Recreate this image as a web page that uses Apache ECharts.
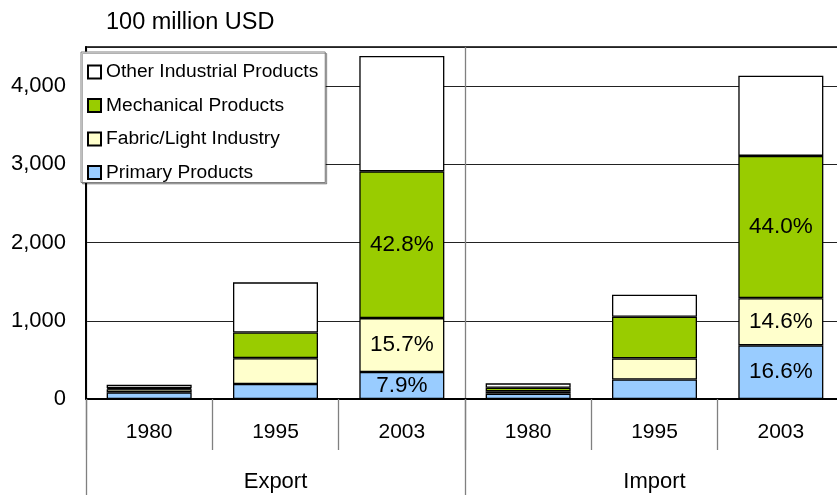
<!DOCTYPE html>
<html>
<head>
<meta charset="utf-8">
<script src="https://cdn.jsdelivr.net/npm/echarts@6/dist/echarts.min.js"></script>
<style>
  html, body { margin: 0; padding: 0; background: #fff; }
  #chart { width: 837px; height: 495px; }
</style>
</head>
<body>
<div id="chart"></div>
<script>
// Trade composition, unit: 100 million USD
const groups = ['Export', 'Import'];
const years = ['1980', '1995', '2003'];
const categories = groups.flatMap(() => years);

// Stacked from the bottom: primary, fabric/light industry, mechanical, other industrial
const primary    = [85, 192, 346, 69, 250, 686];
const fabric     = [40, 330, 688, 30, 269, 603];
const mechanical = [12, 328, 1876, 45, 532, 1819];
const other      = [44, 641, 1474, 56, 281, 1025];

const seriesNames = ['Primary Products', 'Fabric/Light Industry', 'Mechanical Products', 'Other Industrial Products'];
const seriesColors = ['#99CCFF', '#FFFFCC', '#99CC00', '#FFFFFF'];
const labelledYear = '2003';
const yMax = 4500;
const yStep = 1000;

const FONT = '"Liberation Sans", Arial, sans-serif';
const totals = categories.map((_, i) => primary[i] + fabric[i] + mechanical[i] + other[i]);

function shareLabel(p) {
  if (categories[p.dataIndex] !== labelledYear) return '';
  return (p.value / totals[p.dataIndex] * 100).toFixed(1) + '%';
}

function makeSeries(name, values, color, labelled) {
  return {
    name: name,
    type: 'bar',
    stack: 'total',
    barWidth: 85,
    data: values,
    itemStyle: { color: color, borderColor: '#000', borderWidth: 1.3 },
    label: {
      show: labelled,
      position: 'inside',
      formatter: shareLabel,
      color: '#000',
      fontFamily: FONT,
      fontSize: 22.5
    },
    emphasis: { disabled: true }
  };
}

const chart = echarts.init(document.getElementById('chart'), null, { renderer: 'canvas' });

chart.setOption({
  animation: false,
  backgroundColor: '#fff',
  textStyle: { fontFamily: FONT, color: '#000' },
  title: {
    text: '100 million USD',
    left: 106,
    top: 11,
    padding: 0,
    textStyle: { fontFamily: FONT, fontSize: 23.5, fontWeight: 'normal', color: '#000' }
  },
  legend: {
    orient: 'vertical',
    left: 81,
    top: 52,
    padding: [10, 7, 0, 6],
    itemGap: 13.5,
    itemWidth: 13,
    itemHeight: 13,
    icon: 'rect',
    backgroundColor: '#fff',
    borderColor: '#808080',
    borderWidth: 1,
    shadowColor: 'rgba(0,0,0,0.3)',
    shadowOffsetX: 1.5,
    shadowOffsetY: 1.5,
    data: seriesNames.slice().reverse(),
    textStyle: { fontFamily: FONT, fontSize: 19.2, color: '#000', lineHeight: 20 },
    selectedMode: false
  },
  grid: {
    left: 86,
    top: 47,
    width: 758,
    height: 352,
    outerBoundsMode: 'none',
    containLabel: false,
    show: true,
    borderColor: '#000',
    borderWidth: 1.5,
    backgroundColor: 'transparent'
  },
  xAxis: [
    {
      type: 'category',
      data: categories,
      position: 'bottom',
      boundaryGap: true,
      axisLine: { show: true, lineStyle: { color: '#000', width: 2 } },
      axisTick: { show: true, interval: 0, length: 51, lineStyle: { color: '#808080', width: 1.3 } },
      axisLabel: { interval: 0, margin: 23, fontFamily: FONT, fontSize: 21, color: '#000' },
      splitLine: { show: false }
    },
    {
      type: 'category',
      data: groups,
      position: 'bottom',
      boundaryGap: true,
      axisLine: { show: false },
      axisTick: { show: true, interval: 0, length: 96, lineStyle: { color: '#808080', width: 1.3 } },
      axisLabel: { interval: 0, margin: 72, fontFamily: FONT, fontSize: 22, color: '#000' },
      splitLine: { show: true, interval: 0, lineStyle: { color: '#808080', width: 1.3 } }
    }
  ],
  yAxis: {
    type: 'value',
    min: 0,
    max: yMax,
    interval: yStep,
    axisLine: { show: true, lineStyle: { color: '#000', width: 2 } },
    axisTick: { show: false },
    axisLabel: {
      margin: 20,
      fontFamily: FONT,
      fontSize: 22,
      color: '#000',
      formatter: v => (v % yStep === 0 ? v.toLocaleString('en-US') : '')
    },
    splitLine: { show: true, lineStyle: { color: '#222', width: 1 } }
  },
  series: [
    makeSeries(seriesNames[0], primary, seriesColors[0], true),
    makeSeries(seriesNames[1], fabric, seriesColors[1], true),
    makeSeries(seriesNames[2], mechanical, seriesColors[2], true),
    makeSeries(seriesNames[3], other, seriesColors[3], false)
  ]
});
</script>
</body>
</html>
